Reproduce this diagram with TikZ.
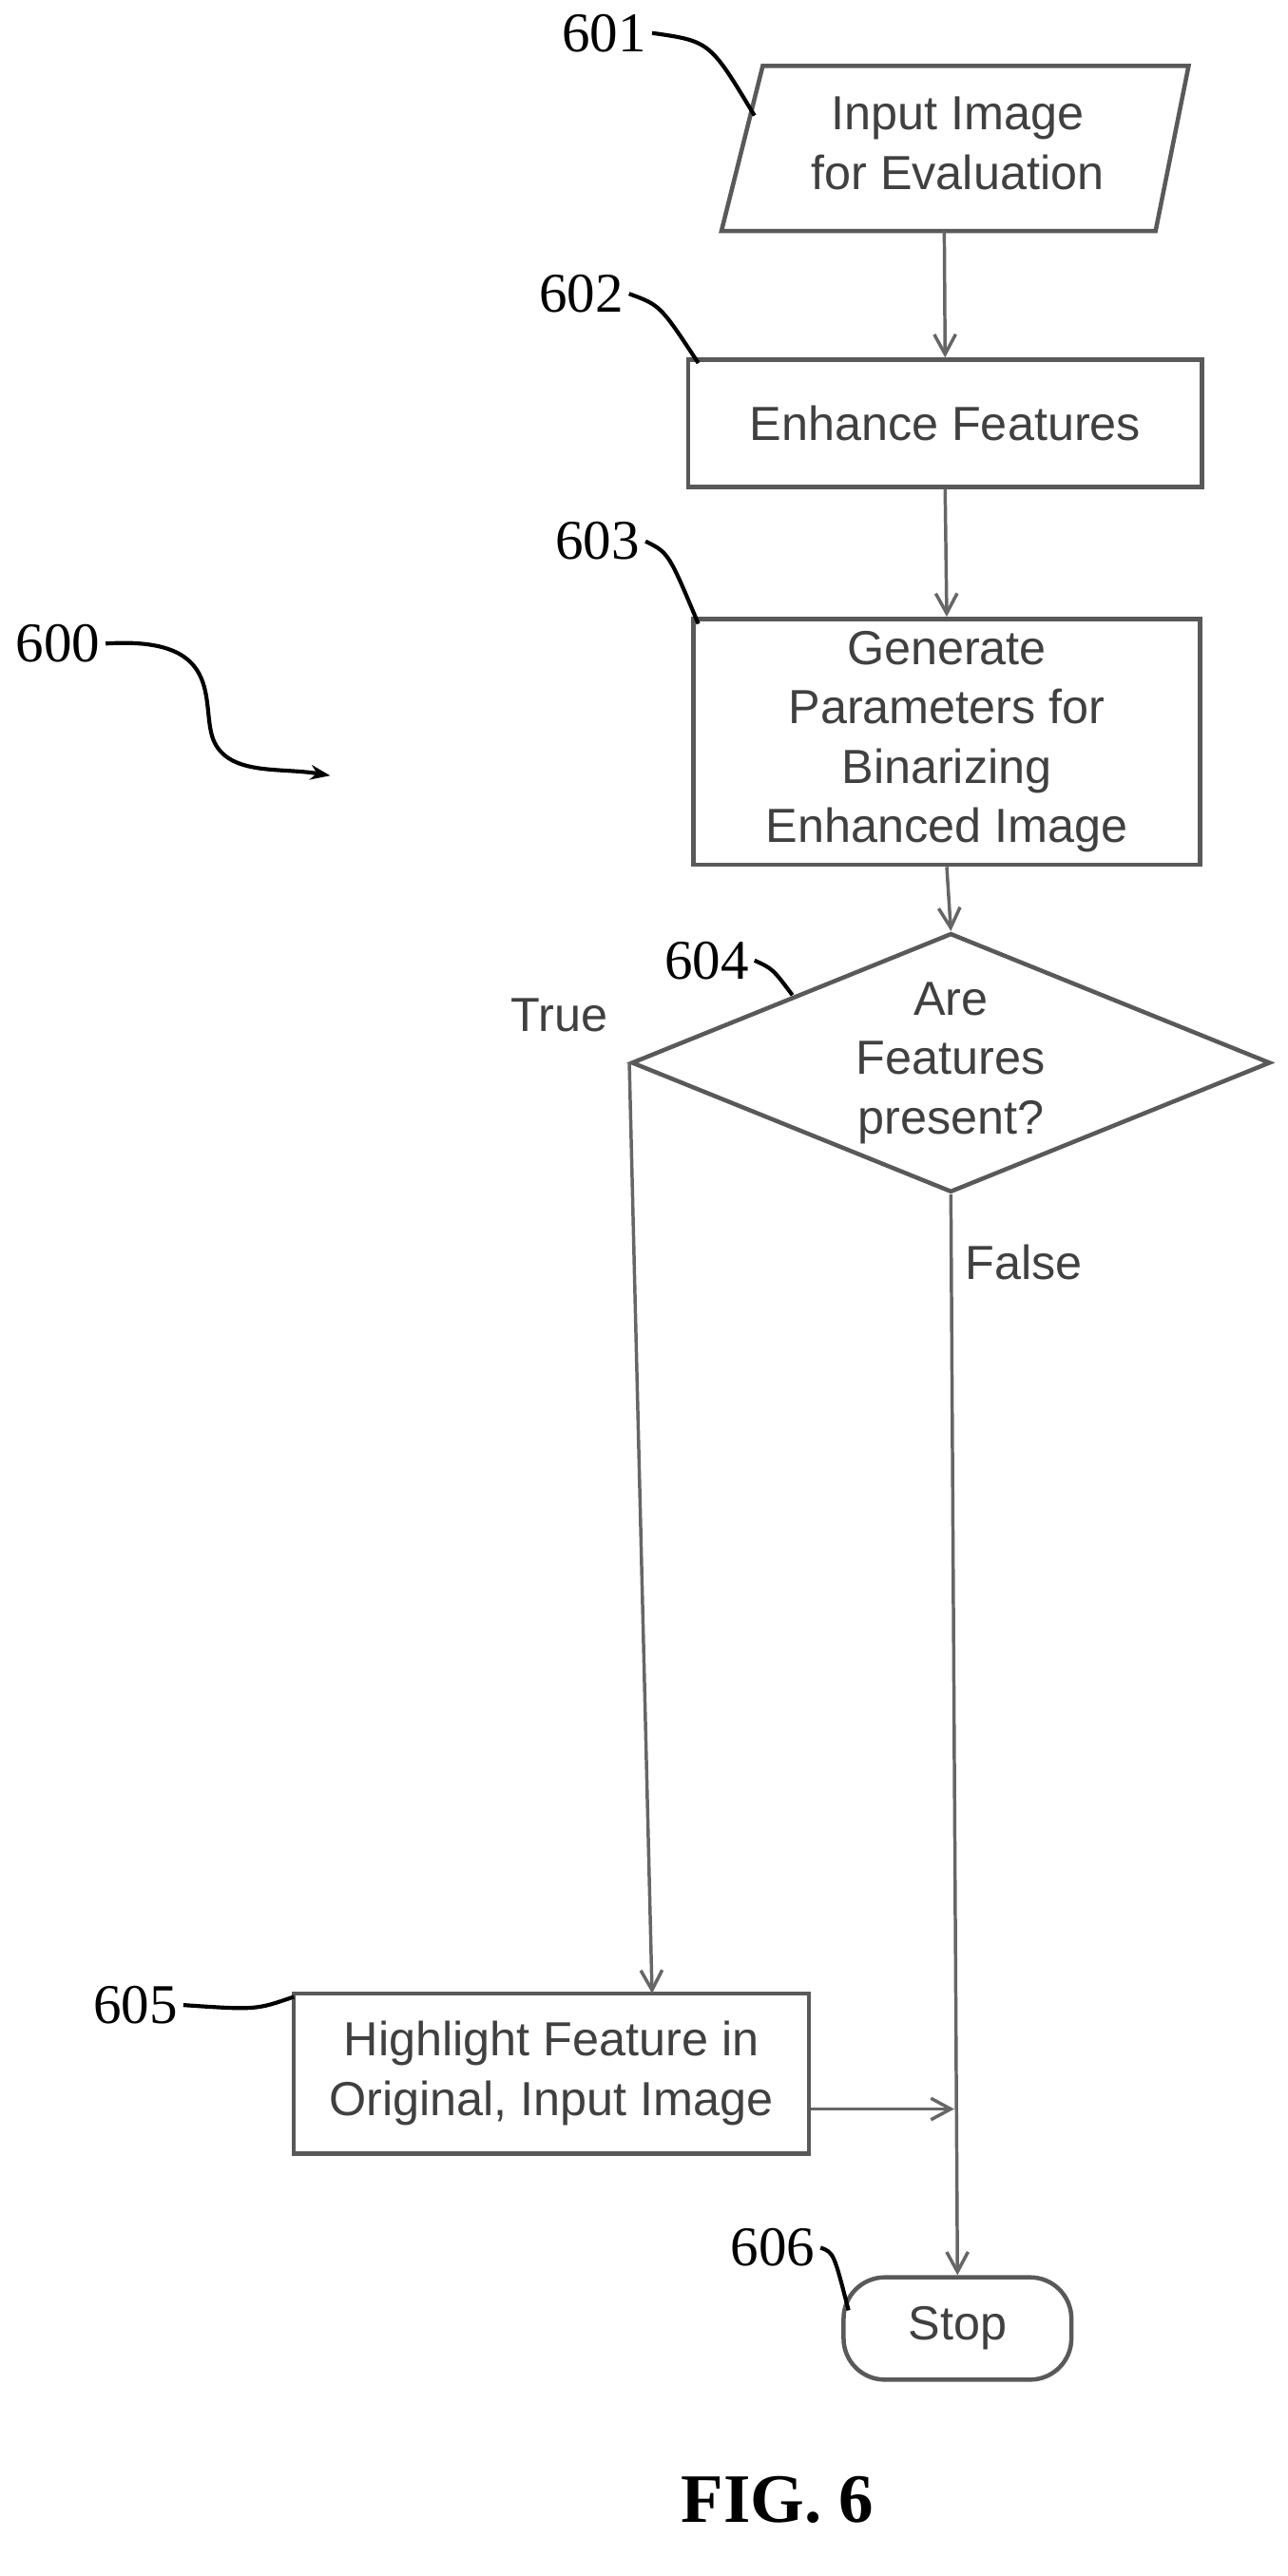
\documentclass[tikz,border=0pt]{standalone}
\usepackage{fontspec}
\setmainfont{Liberation Serif}
\newfontfamily\arial{Liberation Sans}
\usetikzlibrary{shapes.geometric,arrows.meta}
\begin{document}
\begin{tikzpicture}[x=1pt,y=-1pt,
  box/.style={draw=black!65,line width=2.6pt,font=\arial\fontsize{29}{36}\selectfont,text=black!75,align=center},
  flow/.style={draw=black!60,line width=2pt,-{Straight Barb[length=12pt,width=13pt]}},
  lead/.style={draw=black,line width=2.4pt},
  num/.style={font=\fontsize{34}{38}\selectfont}]
\useasboundingbox (0,0) rectangle (780,1561);
% 601
\draw[box] (462,40) -- (720,40) -- (700,140) -- (437,140) -- cycle;
\node[box,draw=none] (p1) at (580,87) {Input Image\\for Evaluation};
\coordinate (p1b) at (572,140);
\node[box,minimum width=311pt,minimum height=77pt] (b2) at (572.5,256.5) {Enhance Features};
\node[box,minimum width=307pt,minimum height=149pt] (b3) at (573.5,449.5) {Generate\\Parameters for\\Binarizing\\Enhanced Image};
\node[box,diamond,aspect=2.33,inner sep=0pt,minimum width=387pt,minimum height=157pt] (d4) at (576,644) {Are\\Features\\present?};
\node[box,minimum width=312pt,minimum height=97pt] (b5) at (334,1256.5) {Highlight Feature in\\Original, Input Image};
\node[box,rounded corners=25pt,minimum width=138pt,minimum height=62pt] (s6) at (580,1411) {Stop};
\coordinate (tend) at (395,1208);
\coordinate (j) at (578,1278);
\draw[flow] (p1b) -- (b2.north);
\draw[flow] (b2.south) -- (b3.north);
\draw[flow] (b3.south) -- (d4.north);
\draw[flow] (d4.west) -- (tend);
\draw[flow] (d4.south) -- (s6.north);
\draw[flow] (b5.east |- j) -- (j);
\node[box,draw=none,anchor=west] (tl) at (305,615) {True};
\node[box,draw=none,anchor=west] (fl) at (580,765) {False};
% reference numbers
\node[num] (n601) at (366,20) {601};
\draw[lead] (n601.east) .. controls (430,25) .. (457,70);
\node[num] (n602) at (352,178) {602};
\draw[lead] (n602.east) .. controls (400,185) .. (423,220);
\node[num] (n603) at (362,328) {603};
\draw[lead] (n603.east) .. controls (405,335) .. (423,378);
\node[num] (n604) at (428,582) {604};
\draw[lead] (n604.east) .. controls (468,587) .. (480,603);
\node[num] (n605) at (82,1215) {605};
\draw[lead] (n605.east) .. controls (155,1218) .. (178,1210);
\node[num] (n606) at (468,1362) {606};
\draw[lead] (n606.east) .. controls (505,1365) .. (514,1400);
\node[num] (n600) at (35,390) {600};
\draw[lead,-{Stealth[length=12pt]}] (n600.east) .. controls (140,385) and (120,430) .. (130,450) .. controls (140,470) and (170,465) .. (200,470);
\node[font=\bfseries\fontsize{42}{46}\selectfont] (fig) at (471,1515) {FIG. 6};
\end{tikzpicture}
\end{document}
